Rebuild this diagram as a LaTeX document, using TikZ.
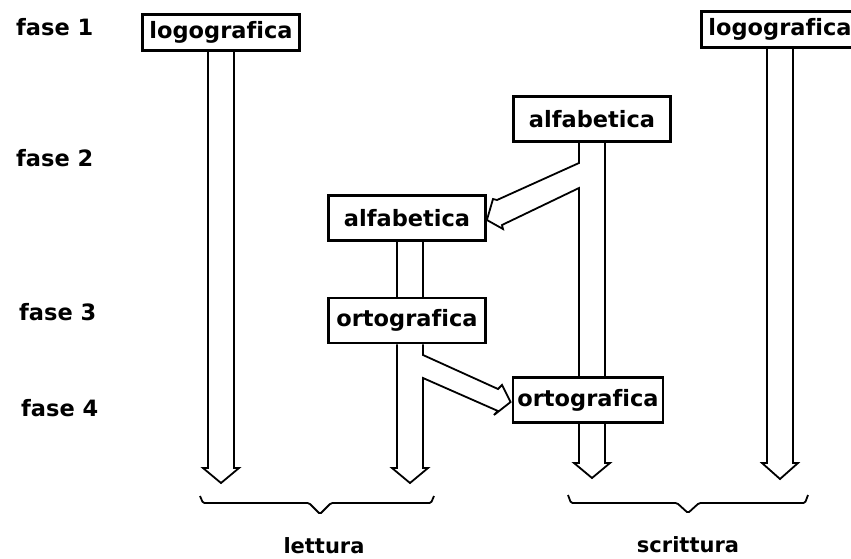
\documentclass[tikz,border=0pt]{standalone}
\usepackage{fontspec}
\setmainfont[Ligatures=NoCommon]{DejaVu Sans}
\usepackage{tikz}
\usetikzlibrary{calc,backgrounds}
\tikzset{
 box/.style={draw=black,line width=2.8pt,fill=white,font=\fontsize{22.5}{24}\selectfont\bfseries,
   minimum width=157pt,minimum height=45pt,inner sep=0pt},
 phase/.style={anchor=west,font=\fontsize{22.5}{24}\selectfont\bfseries,inner sep=0pt},
 group/.style={font=\fontsize{21}{24}\selectfont\bfseries,inner sep=0pt},
 hollow/.style={line width=1.8pt,draw=black,line join=miter},
 bracket/.style={line width=1.8pt,draw=black,rounded corners=1.5pt}
}

\begin{document}
\begin{tikzpicture}[x=1pt,y=-1pt]
 \useasboundingbox (0,0) rectangle (851,558);
 \node[box,minimum height=36.5pt] (logoread) at (221,32.5) {logografica};
 \node[box,minimum height=36.5pt] (logowrite) at (780,29.5) {logografica};
 \node[box] (alfawrite) at (592,119) {alfabetica};
 \node[box] (alfaread) at (407,218) {alfabetica};
 \node[box] (ortoread) at (407,320.5) {ortografica};
 \node[box,minimum width=150pt] (ortowrite) at (588,400) {ortografica};
 \node[phase] (fase1) at (16,27) {fase 1};
 \node[phase] (fase2) at (16,158) {fase 2};
 \node[phase] (fase3) at (19,312) {fase 3};
 \node[phase] (fase4) at (21,408) {fase 4};
 \node[group] (lettura) at (324,546) {lettura};
 \node[group] (scrittura) at (688,545) {scrittura};
 \coordinate (tipa) at (221,483);
 \coordinate (tipb) at (410,483);
 \coordinate (tipc) at (592,478);
 \coordinate (tipd) at (780,479);
 \begin{scope}[on background layer]
 % lettura
 \draw[hollow] ($(logoread.south)+(-13,0)$) -- ($(tipa)+(-13,-15)$) -- ++(-5,0) -- (tipa)
   -- ++(18,-15) -- ++(-5,0) -- ($(logoread.south)+(13,0)$);
 \draw[hollow] ($(alfaread.south)+(-10,0)$) -- ($(ortoread.north)+(-10,0)$);
 \draw[hollow] ($(alfaread.south)+(16,0)$) -- ($(ortoread.north)+(16,0)$);
 \draw[hollow] ($(ortoread.south)+(-10,0)$) -- ($(tipb)+(-13,-15)$) -- ++(-5,0) -- (tipb)
   -- ++(18,-15) -- ++(-5,0) -- (423,378) -- (498,411) -- (494,415)
   -- ($(ortowrite.west)+(-1,2)$) -- (502,385) -- (498,389) -- (423,355)
   -- ($(ortoread.south)+(16,0)$);
 % scrittura
 \draw[hollow] ($(alfawrite.south)+(-13,0)$) -- (579,163) -- (497,200) -- (493,199)
   -- ($(alfaread.east)+(0,2)$) -- (503,229) -- (502,225) -- (579,188)
   -- ($(tipc)+(-13,-15)$) -- ++(-5,0) -- (tipc) -- ++(18,-15) -- ++(-5,0)
   -- ($(alfawrite.south)+(13,0)$);
 \draw[hollow] ($(logowrite.south)+(-13,0)$) -- ($(tipd)+(-13,-16)$) -- ++(-5,0) -- (tipd)
   -- ++(18,-16) -- ++(-5,0) -- ($(logowrite.south)+(13,0)$);
 \end{scope}
 \draw[bracket] (200,496) -- (203,503) -- (309,503) -- (320,514) -- (331,503) -- (431,503) -- (434,496);
 \draw[bracket] (568,495) -- (571,503) -- (677,503) -- (688,513) -- (699,503) -- (805,503) -- (808,495);
\end{tikzpicture}
\end{document}
